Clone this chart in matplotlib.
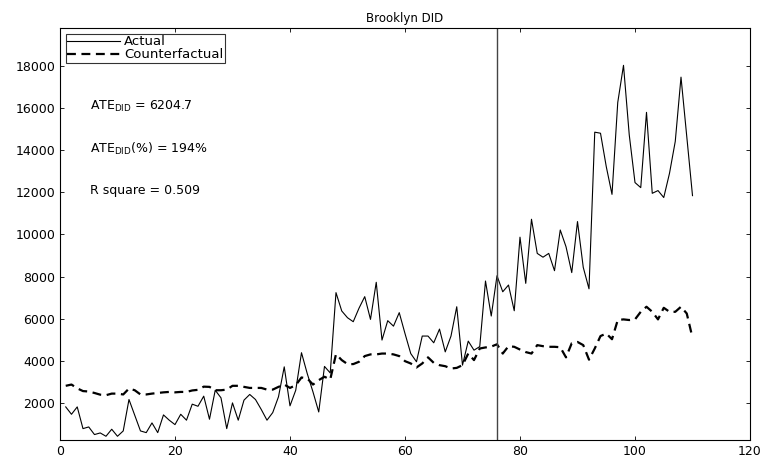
import matplotlib
matplotlib.use('Agg')
import matplotlib.pyplot as plt
import numpy as np

plt.rcParams.update({
    'font.family': ['DejaVu Sans'],
    'font.size': 9,
    'mathtext.fontset': 'dejavusans',
    'xtick.direction': 'in',
    'ytick.direction': 'in',
    'xtick.top': True,
    'ytick.right': True,
    'xtick.labelsize': 9,
    'ytick.labelsize': 9,
})

# --- data ---
periods = np.arange(1, 111)
actual = [
    1820, 1470, 1820, 790, 870, 508, 585, 427, 760, 427,
    680, 2170, 1425, 680, 600, 1060, 600, 1440, 1190, 980,
    1470, 1190, 1950, 1850, 2330, 1235, 2610, 2250, 790, 2010,
    1190, 2140, 2410, 2170, 1700, 1190, 1550, 2300, 3720, 1870,
    2610, 4390, 3400, 2530, 1580, 3740, 3430, 7240, 6370, 6050,
    5860, 6500, 7050, 5970, 7730, 4990, 5910, 5650, 6290, 5300,
    4350, 3960, 5180, 5180, 4860, 5510, 4430, 5180, 6570, 3800,
    4940, 4510, 4680, 7790, 6130, 8040, 7280, 7600, 6380, 9870,
    7680, 10720, 9100, 8920, 9100, 8280, 10210, 9420, 8190, 10610,
    8440, 7420, 14850, 14800, 13220, 11900, 16260, 18020, 14720, 12460,
    12220, 15790, 11950, 12080, 11750, 12900, 14410, 17460, 14650, 11840,
]
counterfactual = [
    2820, 2880, 2700, 2570, 2550, 2480, 2400, 2375, 2450, 2450,
    2410, 2690, 2610, 2410, 2410, 2450, 2480, 2510, 2530, 2510,
    2530, 2530, 2600, 2630, 2780, 2770, 2610, 2610, 2640, 2820,
    2820, 2770, 2720, 2720, 2720, 2640, 2640, 2770, 2880, 2720,
    2850, 3215, 3170, 2880, 3090, 3250, 3120, 4320, 4040, 3850,
    3850, 3960, 4230, 4310, 4310, 4350, 4350, 4310, 4230, 3990,
    3880, 3690, 3880, 4170, 3910, 3800, 3750, 3640, 3670, 3800,
    4350, 4040, 4590, 4640, 4680, 4790, 4350, 4700, 4670, 4540,
    4420, 4350, 4750, 4700, 4670, 4670, 4650, 4170, 4840, 4900,
    4750, 4060, 4590, 5180, 5300, 5030, 5940, 5970, 5940, 5970,
    6330, 6570, 6330, 5970, 6520, 6330, 6330, 6570, 6250, 5100,
]
intervention = 76
stats_text = [r'ATE$_{\rm DID}$ = 6204.7', r'ATE$_{\rm DID}$(%) = 194%', 'R square = 0.509']
stats_y = [16050, 14060, 12065]

fig = plt.figure(figsize=(7.65, 4.58), dpi=100)
ax = fig.add_axes([0.0784, 0.0393, 0.902, 0.900])

ax.plot(periods, actual, color='black', linewidth=0.8, label='Actual')
ax.plot(periods, counterfactual, color='black', linestyle=(0, (4, 2.5)), linewidth=1.6,
        label='Counterfactual')
ax.axvline(intervention, color='#444444', linewidth=1.0)

for txt, yv in zip(stats_text, stats_y):
    ax.text(5.2, yv, txt, fontsize=9, va='center', ha='left')

ax.set_xlim(0, 120)
ax.set_ylim(250, 19800)
ax.set_xticks(np.arange(0, 121, 20))
ax.set_yticks(np.arange(2000, 18001, 2000))
ax.tick_params(length=3, width=0.6, pad=3.5)
for s in ax.spines.values():
    s.set_linewidth(0.8)
ax.set_title('Brooklyn DID', fontsize=8.5, pad=4)

leg = ax.legend(loc='upper left', fontsize=9.5, frameon=True, fancybox=False,
                borderaxespad=0.45, handlelength=4.0, handletextpad=0.3,
                borderpad=0.12, labelspacing=0.0, edgecolor='black')
leg.get_frame().set_linewidth(0.8)

fig.savefig('out.png', dpi=100)
